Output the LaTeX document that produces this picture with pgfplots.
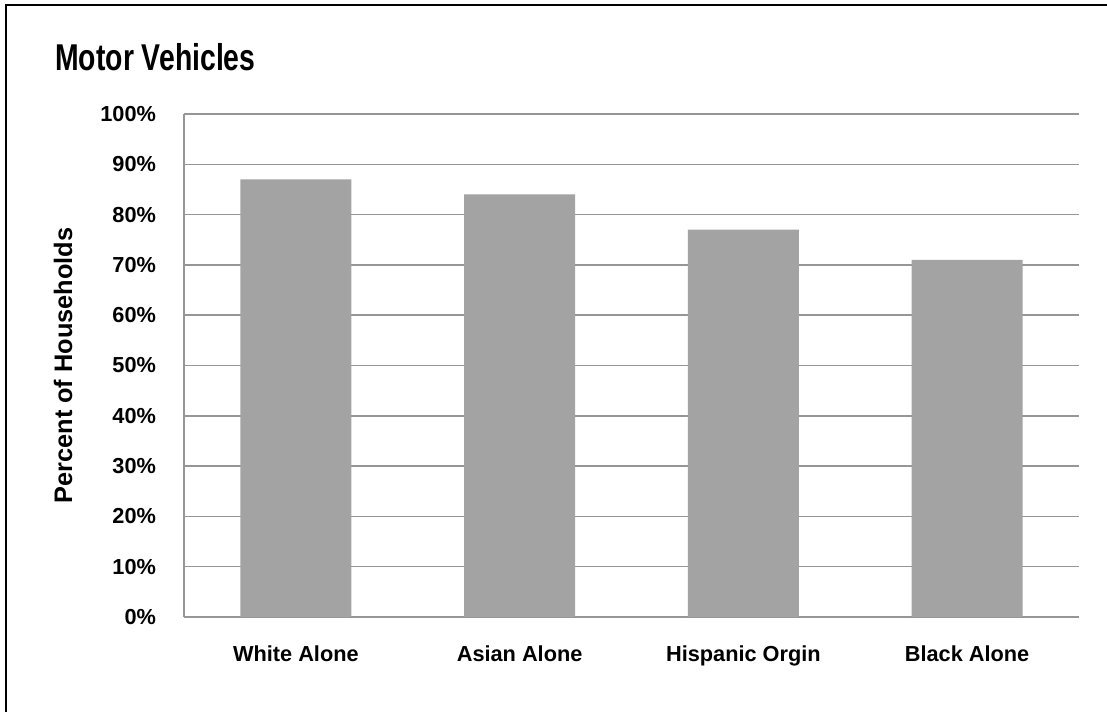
\documentclass[border=0pt]{standalone}
\usepackage{fontspec}
\setmainfont{Liberation Sans}
\newfontfamily\titlefont[FakeStretch=0.76]{Liberation Sans}
\usepackage{pgfplots}
\pgfplotsset{compat=1.18}
\definecolor{barc}{RGB}{163,163,164}
\definecolor{gridc}{RGB}{150,150,150}
\begin{document}
\begin{tikzpicture}
\useasboundingbox (0pt,0pt) rectangle (830.25pt,534pt);
\draw[line width=2.2pt] (4.5pt,0pt) -- (4.5pt,530.25pt) -- (830.25pt,530.25pt);
\node[anchor=base west, font=\titlefont\bfseries\fontsize{28}{31}\selectfont, inner sep=0] at (41.25pt,480.75pt) {Motor Vehicles};
\begin{axis}[
  at={(138pt,71.25pt)}, anchor=south west, scale only axis,
  width=671.25pt, height=377.25pt,
  xmin=0.5, xmax=4.5, ymin=0, ymax=100,
  ytick={0,10,...,100},
  yticklabel={\pgfmathprintnumber{\tick}\%},
  xtick={1,2,3,4},
  xticklabels={White Alone,Asian Alone,Hispanic Orgin,Black Alone},
  ticklabel style={font=\fontsize{16.3}{19}\selectfont\bfseries},
  /pgf/number format/assume math mode=true,
  major tick length=0pt,
  xticklabel style={yshift=-18pt},
  yticklabel style={xshift=-17.5pt},
  ymajorgrids,
  grid style={color=gridc, line width=1.1pt},
  axis lines*=left,
  axis line style={color=gridc, line width=1.1pt},
  ylabel={Percent of Households},
  ylabel style={at={(axis description cs:-0.135,0.5)}, anchor=center, font=\fontsize{19}{22}\selectfont\bfseries},
  ybar, bar width=0.496, bar shift=0pt,
]
\addplot[fill=barc, draw=none] coordinates {(1,87) (2,84) (3,77) (4,71)};
\end{axis}
\end{tikzpicture}
\end{document}
